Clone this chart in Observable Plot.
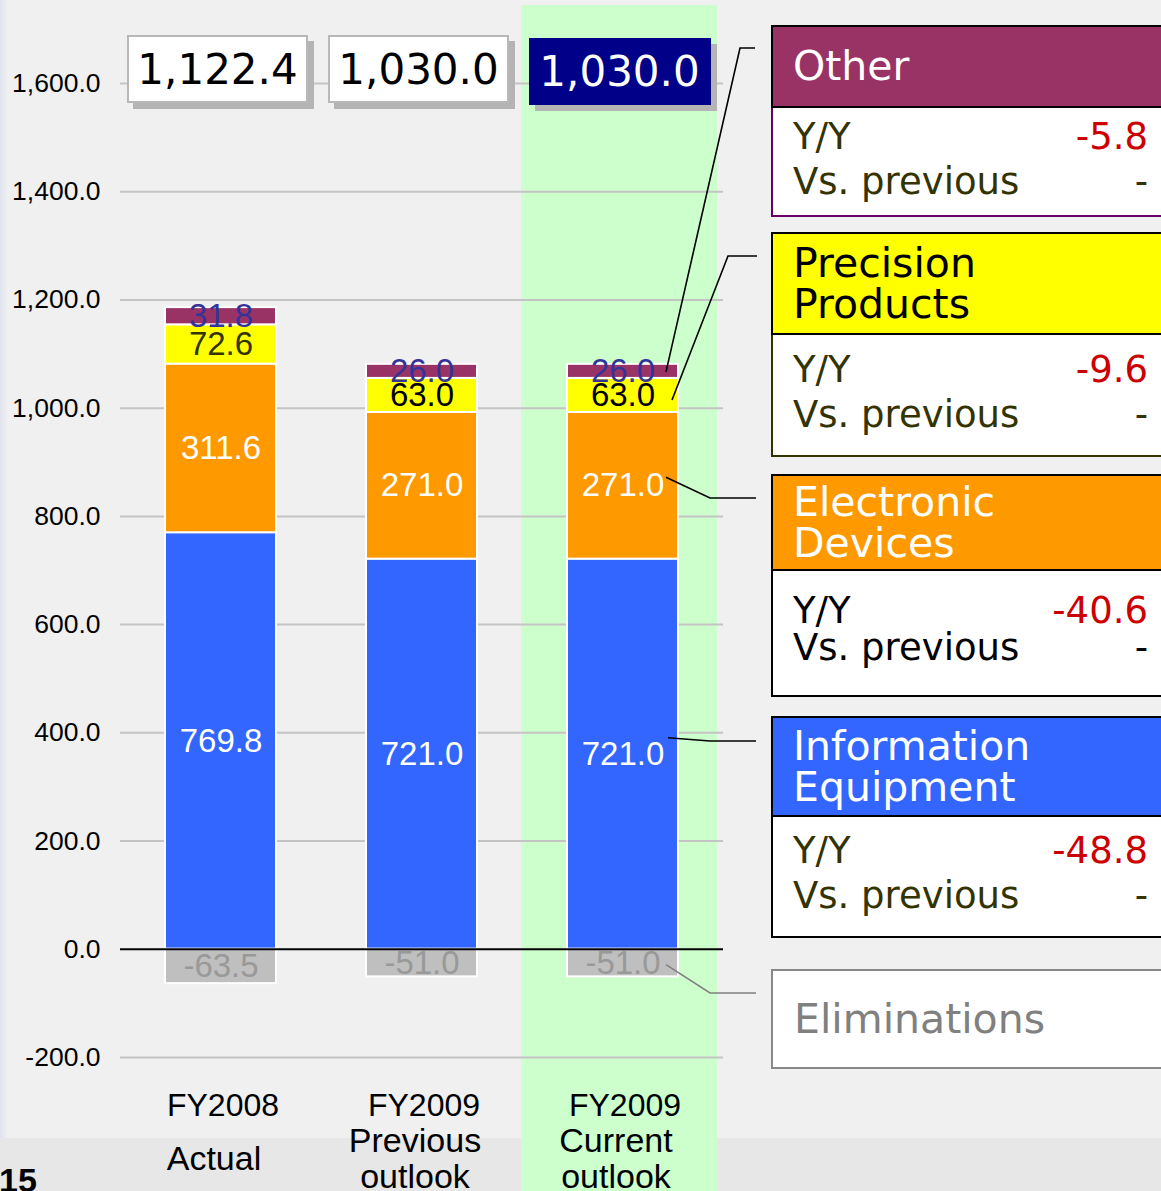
<!DOCTYPE html>
<html><head><meta charset="utf-8">
<script src="https://cdn.jsdelivr.net/npm/d3@7"></script>
<script src="https://cdn.jsdelivr.net/npm/@observablehq/plot@0.6"></script>
<style>
html,body{margin:0;padding:0;}
body{width:1161px;height:1191px;overflow:hidden;background:#f0f0f0;position:relative;font-family:"Liberation Sans",Arial,sans-serif;}
#chart{position:absolute;left:0;top:0;z-index:2;}
.abs{position:absolute;box-sizing:border-box;}
.tot{position:absolute;box-sizing:border-box;z-index:3;font-family:"DejaVu Sans",Verdana,sans-serif;font-size:42px;display:flex;align-items:center;justify-content:center;}
.panel{position:absolute;box-sizing:border-box;z-index:3;font-family:"DejaVu Sans",Verdana,sans-serif;}
.head{position:absolute;left:0;box-sizing:border-box;border:2px solid #000;font-size:41px;line-height:41px;display:flex;flex-direction:column;justify-content:center;padding-left:20px;}
.body{position:absolute;left:0;box-sizing:border-box;background:#fff;border:2px solid #000;border-top:none;font-size:37px;}
.row{position:absolute;left:20px;right:21px;height:44px;line-height:44px;}
.row .v{position:absolute;right:0;top:0;}
</style></head><body>
<div class="abs" style="left:0;top:0;width:8px;height:1191px;background:linear-gradient(to right,#dfe3ee,#f0f0f0);"></div>
<div class="abs" style="left:0;top:1138px;width:1161px;height:53px;background:#e7e7e7;"></div>
<div id="chart"></div>
<script>
// ---------- data ----------
const categories = ["FY2008 Actual", "FY2009 Previous outlook", "FY2009 Current outlook"];
const catTop = ["FY2008", "FY2009", "FY2009"];
const catSub = ["Actual", "Previous\noutlook", "Current\noutlook"];
const segments = ["Information Equipment", "Electronic Devices", "Precision Products", "Other", "Eliminations"];
const informationEquipment = [769.8, 721.0, 721.0];
const electronicDevices = [311.6, 271.0, 271.0];
const precisionProducts = [72.6, 63.0, 63.0];
const otherSeg = [31.8, 26.0, 26.0];
const eliminations = [-63.5, -51.0, -51.0];
const totals = [1122.4, 1030.0, 1030.0];
const yTicks = [-200, 0, 200, 400, 600, 800, 1000, 1200, 1400, 1600];
// right-hand panels: Other, Precision Products, Electronic Devices, Information Equipment
const panelNames = ["Other", "Precision\nProducts", "Electronic\nDevices", "Information\nEquipment"];
const panelYoY = [-5.8, -9.6, -40.6, -48.8];
const panelVsPrevious = ["-", "-", "-", "-"];
const elimName = "Eliminations";

// ---------- build table ----------
const series = [informationEquipment, electronicDevices, precisionProducts, otherSeg, eliminations];
const rows = [];
categories.forEach((c, i) => series.forEach((s, k) => rows.push({cat: c, i, segment: segments[k], value: s[i]})));

const segFill = {"Information Equipment": "#3366ff", "Electronic Devices": "#ff9900", "Precision Products": "#ffff00", "Other": "#993366", "Eliminations": "#bfbfbf"};
function labelColor(d) {
  if (d.segment === "Information Equipment" || d.segment === "Electronic Devices") return "#ffffff";
  if (d.segment === "Precision Products") return d.i === 0 ? "#333300" : "#000000";
  if (d.segment === "Other") return "#333399";
  return "#999999";
}
const locale = d3.formatLocale({decimal: ".", thousands: ",", grouping: [3], currency: ["", ""], minus: "-"});
const fmt = locale.format(",.1f");

const plot = Plot.plot({
  width: 1161, height: 1191,
  marginLeft: 120, marginRight: 438, marginTop: 83, marginBottom: 134,
  style: {background: "transparent", fontFamily: "'Liberation Sans', Arial, sans-serif", overflow: "visible"},
  x: {domain: categories, paddingInner: 0.45, paddingOuter: 0.225, axis: null},
  y: {domain: [-200, 1600], axis: null},
  color: {type: "identity"},
  marks: [
    Plot.gridY(yTicks.filter(d => d !== 0), {stroke: "#c4c4c4", strokeOpacity: 1, strokeWidth: 2}),
    Plot.axisY(yTicks, {tickSize: 0, tickPadding: 20, tickFormat: fmt, fontSize: 26.5, fill: "#000", label: null}),
    Plot.barY(rows, {x: "cat", y: "value", z: "segment", order: segments, fill: d => segFill[d.segment], stroke: "#fff", strokeWidth: 2}),
    Plot.text(rows, Plot.stackY({x: "cat", y: "value", z: "segment", order: segments, text: d => fmt(d.value), fill: labelColor, fontSize: 33})),
    Plot.ruleY([0], {stroke: "#000", strokeWidth: 2}),
    Plot.text(categories, {x: d => d, text: (d, i) => catTop[i], frameAnchor: "bottom", lineAnchor: "middle", dy: 48, dx: 2, fontSize: 32, fill: "#000"}),
    Plot.text(categories, {x: d => d, text: (d, i) => catSub[i], frameAnchor: "bottom", lineAnchor: "middle", dy: 101, dx: -7, fontSize: 34, lineHeight: 1.06, fill: "#000"})
  ]
});
document.getElementById("chart").appendChild(plot);

const xs = plot.scale("x"), ys = plot.scale("y");
const bw = xs.bandwidth;
const cx = c => xs.apply(c) + bw / 2;

// highlight band behind current outlook
const band = document.createElement("div");
band.className = "abs";
Object.assign(band.style, {left: (xs.apply(categories[2]) - 46) + "px", top: "5px", width: (bw + 85) + "px", height: "1186px", background: "#ccffcc", zIndex: 1});
document.body.appendChild(band);

// total boxes
const totStyles = [
  {top: 35, h: 68, w: 181, bg: "#fff", fg: "#000", border: "2px solid #b8b8b8"},
  {top: 35, h: 68, w: 181, bg: "#fff", fg: "#000", border: "2px solid #b8b8b8"},
  {top: 38, h: 67, w: 182, bg: "#000088", fg: "#fff", border: "none"}
];
totals.forEach((t, i) => {
  const s = totStyles[i];
  const d = document.createElement("div");
  d.className = "tot";
  Object.assign(d.style, {left: (cx(categories[i]) - 3 - s.w / 2) + "px", top: s.top + "px", width: s.w + "px", height: s.h + "px", background: s.bg, color: s.fg, border: s.border, boxShadow: "6px 6px 0 #b4b4b4"});
  d.textContent = fmt(t);
  document.body.appendChild(d);
});

// right-hand panels
const panelLayout = [
  {top: 25, headH: 83, bodyH: 109, headBg: "#993366", headFg: "#fff", bodyBorder: "#660066", txt: "#333300", r1: 29, gap: 45},
  {top: 232, headH: 103, bodyH: 122, headBg: "#ffff00", headFg: "#000", bodyBorder: "#333300", txt: "#333300", r1: 35, gap: 45},
  {top: 474, headH: 97, bodyH: 126, headBg: "#ff9900", headFg: "#fff", bodyBorder: "#000", txt: "#000", r1: 40, gap: 37},
  {top: 716, headH: 101, bodyH: 121, headBg: "#3366ff", headFg: "#fff", bodyBorder: "#000", txt: "#333300", r1: 34, gap: 45}
];
panelNames.forEach((n, i) => {
  const L = panelLayout[i];
  const p = document.createElement("div");
  p.className = "panel";
  Object.assign(p.style, {left: "771px", top: L.top + "px", width: "400px", height: (L.headH + L.bodyH) + "px"});
  const h = document.createElement("div");
  h.className = "head";
  Object.assign(h.style, {top: 0, width: "400px", height: L.headH + "px", background: L.headBg, color: L.headFg});
  n.split("\n").forEach(t => { const s = document.createElement("div"); s.textContent = t; h.appendChild(s); });
  p.appendChild(h);
  const b = document.createElement("div");
  b.className = "body";
  Object.assign(b.style, {top: L.headH + "px", width: "400px", height: L.bodyH + "px", borderColor: L.bodyBorder, color: L.txt});
  const r1 = document.createElement("div");
  r1.className = "row";
  r1.style.top = (L.r1 - 22) + "px";
  r1.innerHTML = `<span>Y/Y</span><span class="v" style="color:#cc0000">${locale.format(".1f")(panelYoY[i])}</span>`;
  const r2 = document.createElement("div");
  r2.className = "row";
  r2.style.top = (L.r1 + L.gap - 22) + "px";
  r2.innerHTML = `<span>Vs. previous</span><span class="v">${panelVsPrevious[i]}</span>`;
  b.appendChild(r1); b.appendChild(r2);
  p.appendChild(b);
  document.body.appendChild(p);
});
const el = document.createElement("div");
el.className = "panel";
Object.assign(el.style, {left: "771px", top: "969px", width: "400px", height: "100px", background: "#fff", border: "2px solid #888", color: "#808080", fontSize: "41px", display: "flex", alignItems: "center", paddingLeft: "21px"});
el.textContent = elimName;
document.body.appendChild(el);

// leader lines (start at segment midpoints of the current-outlook bar)
const cur = categories[2];
const x0 = xs.apply(cur) + bw - 12;
const mids = [
  (informationEquipment[2] + electronicDevices[2] + precisionProducts[2] + otherSeg[2] / 2),
  (informationEquipment[2] + electronicDevices[2] + precisionProducts[2] / 2),
  (informationEquipment[2] + electronicDevices[2] / 2),
  (informationEquipment[2] / 2),
  (eliminations[2] / 2)
];
const leaders = [
  {dx: 0, dy: 1, ex: 740, ey: 48, end: 755, c: "#000"},
  {dx: 6, dy: 5, ex: 728, ey: 256, end: 757, c: "#000"},
  {dx: 0, dy: -8, ex: 710, ey: 498, end: 756, c: "#000"},
  {dx: 2, dy: -16, ex: 710, ey: 741, end: 756, c: "#000"},
  {dx: 0, dy: 2, ex: 710, ey: 993, end: 756, c: "#808080"}
];
const ov = d3.select("body").append("svg").attr("width", 1161).attr("height", 1191)
  .style("position", "absolute").style("left", 0).style("top", 0).style("z-index", 4).style("pointer-events", "none");
leaders.forEach((l, k) => {
  const sy = ys.apply(mids[k]) + l.dy;
  ov.append("polyline").attr("points", `${x0 + l.dx},${sy} ${l.ex},${l.ey} ${l.end},${l.ey}`)
    .attr("fill", "none").attr("stroke", l.c).attr("stroke-width", 1.6);
});

// page number
const pn = document.createElement("div");
pn.className = "abs";
Object.assign(pn.style, {left: "-1px", top: "1163px", fontSize: "34px", fontWeight: "bold", color: "#000", zIndex: 5, lineHeight: "34px"});
pn.textContent = "15";
document.body.appendChild(pn);
</script>
</body></html>
